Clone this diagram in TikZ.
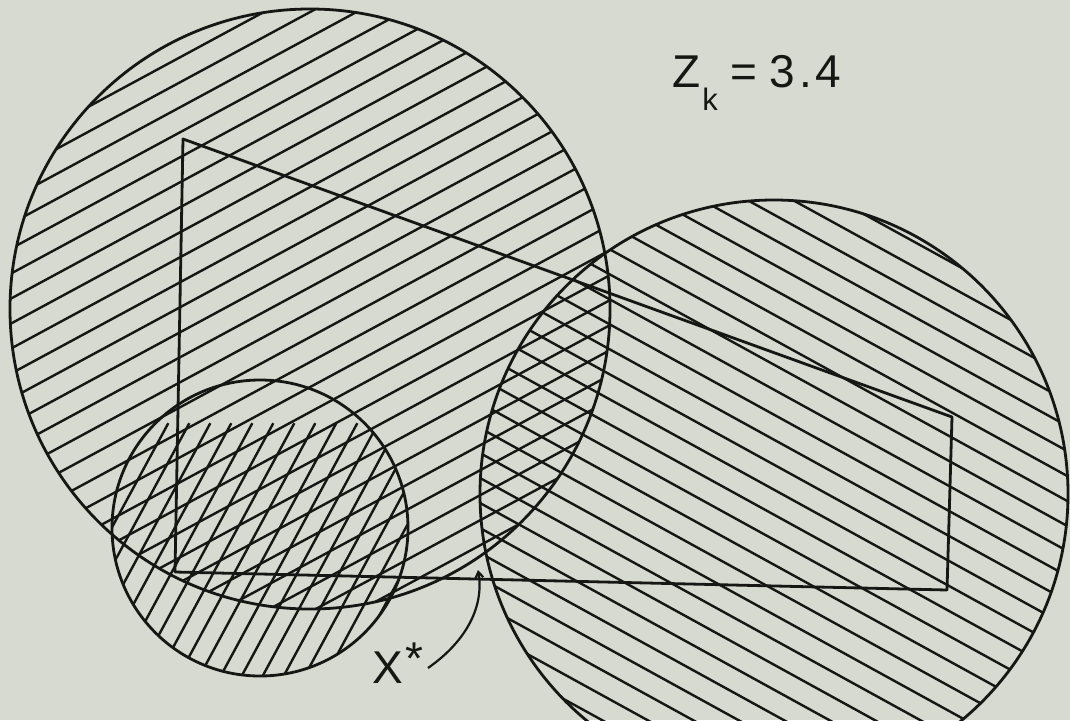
\documentclass[tikz,border=0pt]{standalone}
\usepackage{fontspec}
\setmainfont{Liberation Sans}
\usetikzlibrary{arrows.meta}
\definecolor{paper}{RGB}{214,218,208}
\definecolor{ink}{RGB}{22,22,20}
\tikzset{
  outline/.style={draw=ink, line width=2.8pt, line join=round},
  hatch/.style={draw=ink, line width=2.4pt},
  lbl/.style={text=ink, inner sep=0pt, font=\fontsize{46}{50}\selectfont},
}
\begin{document}
\begin{tikzpicture}[x=1pt, y=-1pt]
\fill[paper] (0,0) rectangle (1070,720);
\useasboundingbox (0,0) rectangle (1070,720);
\begin{scope}
\clip (0,0) rectangle (1070,720);
% hatching of the big circle
\begin{scope}
  \clip (310,309) circle (300);
  \foreach \k in {5,...,33} {
    \pgfmathsetmacro\c{4.5+25*\k}
    \draw[hatch] (0,\c) -- (620,{\c-0.54*620});
  }
\end{scope}
% hatching of the right circle
\begin{scope}
  \clip (774,494) circle (294);
  \foreach \k in {-13,...,17} {
    \pgfmathsetmacro\c{14+25*\k}
    \draw[hatch] (470,{\c+0.55*470}) -- (1080,{\c+0.55*1080});
  }
\end{scope}
% hatching of the small circle
\begin{scope}
  \clip (260,528) circle (148);
  \foreach \k in {-7,...,12} {
    \pgfmathsetmacro\xk{163.3+21*\k}
    \draw[hatch] ({\xk-110},{626.7+1.85*110}) -- ({\xk+110},{626.7-1.85*110});
  }
\end{scope}
% outlines
\draw[outline] (310,309) circle (300);
\draw[outline] (774,494) circle (294);
\draw[outline] (260,528) circle (148);
\draw[outline] (183,139) -- (952,417) -- (947,590) -- (175,572) -- cycle;
\end{scope}
% labels
\node[lbl, anchor=base west] (zk) at (672,87) {Z\kern2pt\raisebox{-0.5em}{\fontsize{31}{31}\selectfont k}\kern13pt=\kern12pt3\kern4pt.\kern3pt4};
\node[lbl, anchor=base west] (xstar) at (372,683) {X\kern3pt\raisebox{0.18em}{*}};
\coordinate (astart) at (428,668);
\coordinate (xopt) at (478,570);
\draw[draw=ink, line width=2.2pt, -{Straight Barb[length=6pt,width=8pt]}] (astart) .. controls (468,640) and (484,605) .. (xopt);
\end{tikzpicture}
\end{document}
